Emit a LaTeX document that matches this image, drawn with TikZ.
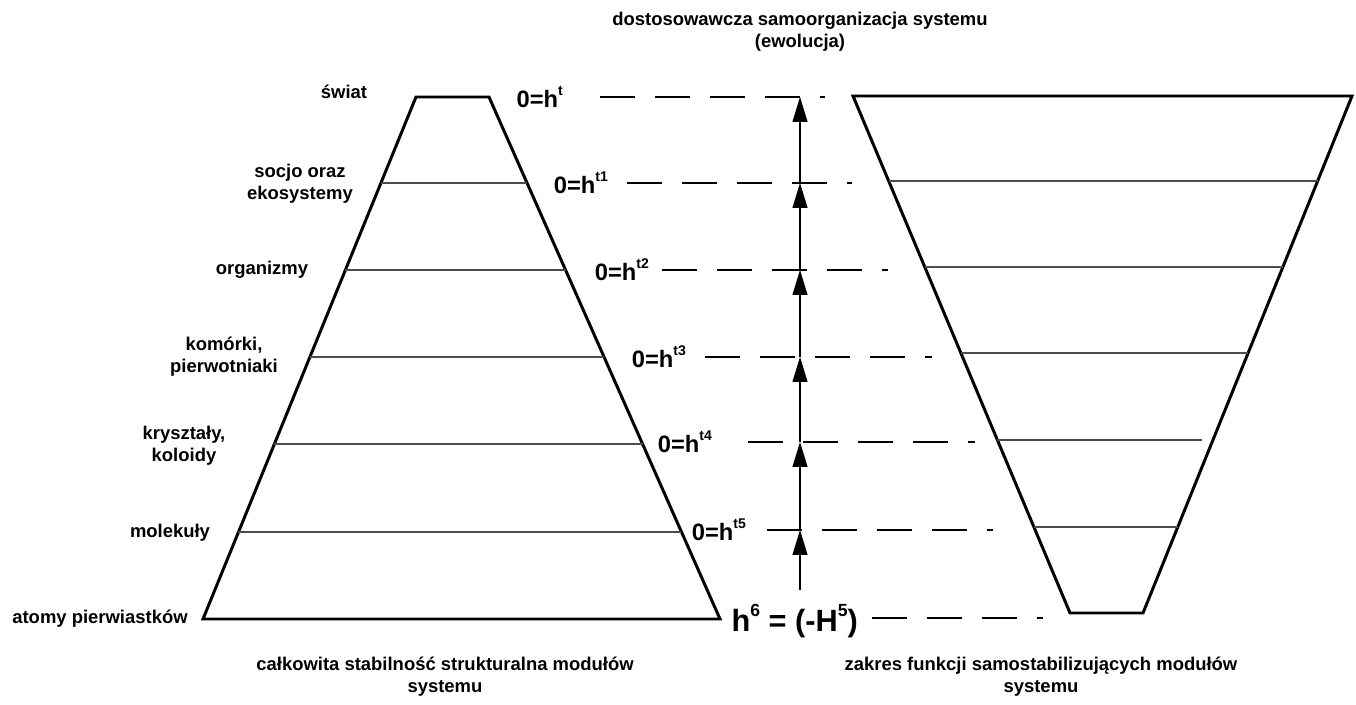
\documentclass[tikz,border=0pt]{standalone}
\usepackage{fontspec}
\setmainfont{Liberation Sans}
\usetikzlibrary{arrows.meta,positioning}
\newcommand{\upidx}[2][8]{\raisebox{0.5em}{\fontsize{#1}{#1}\selectfont #2}}

\begin{document}
\begin{tikzpicture}[
  x=0.02cm, y=-0.02cm,
  font=\bfseries\fontsize{10.5}{12.5}\selectfont, >=Triangle,
  frame/.style={line width=1.7pt, line join=miter},
  tier/.style={line width=0.6pt, black!70},
  lbl/.style={align=center, inner sep=1pt},
  lvl/.style={anchor=east, inner sep=1pt, font=\bfseries\fontsize{13.5}{15}\selectfont},
  dashline/.style={line width=1.2pt, dash pattern=on 0.7cm off 0.4cm},
  rise/.style={line width=0.6pt, -{Triangle[length=0.5cm, width=0.3cm]}},
]
\useasboundingbox (0,0) rectangle (1356,705);

% ── left trapezoid: structural stability ─────────────────────────────
\coordinate (Ltl) at (416,97);  \coordinate (Ltr) at (489,97);
\coordinate (Lbr) at (720,619); \coordinate (Lbl) at (203,619);
\draw[frame] (Ltl) -- (Ltr) -- (Lbr) -- (Lbl) -- cycle;
\foreach \y/\xa/\xb in {183/381/527, 270/345/566, 357/310/604, 444/274/643, 532/238/681}
  \draw[tier] (\xa,\y) -- (\xb,\y);

% ── right trapezoid: self-stabilising functions ──────────────────────
\coordinate (Rtl) at (853,96);   \coordinate (Rtr) at (1352,96);
\coordinate (Rbr) at (1143,613); \coordinate (Rbl) at (1070,613);
\draw[frame] (Rtl) -- (Rtr) -- (Rbr) -- (Rbl) -- cycle;
\foreach \y/\xa/\xb in {181/889/1318, 267/925/1283, 353/961/1248, 440/997/1202, 527/1034/1178}
  \draw[tier] (\xa,\y) -- (\xb,\y);

% ── level names ──────────────────────────────────────────────────────
\node[lbl] (swiat) at (344,92)  {świat};
\node[lbl] (socjo) at (300,184) {socjo oraz\\ekosystemy};
\node[lbl] (organ) at (262,270) {organizmy};
\node[lbl] (komor) at (224,357) {komórki,\\pierwotniaki};
\node[lbl] (kryst) at (184,446) {kryształy,\\koloidy};
\node[lbl] (molek) at (170,533) {molekuły};
\node[lbl] (atomy) at (100,619) {atomy pierwiastków};

% ── entropy levels with dashed guides ────────────────────────────────
\foreach \n/\y/\xl/\xa/\xb/\s in {0/97/565/600/825/t, 1/183/610/627/852/t1, 2/270/651/662/888/t2,
                                3/357/688/705/932/t3, 4/442/714/748/975/t4, 5/530/748/767/993/t5}{
  \node[lvl] (h\n) at (\xl,\y) {0=h\upidx{\s}};
  \coordinate (d\n) at (\xa,\y);
  \coordinate (e\n) at (\xb,\y);
  \draw[dashline] (d\n) -- (e\n);
}
\node[lvl, font=\bfseries\fontsize{17.5}{19}\selectfont] (h6) at (860,621) {h\upidx[10]{6} = (-H\upidx[10]{5})};
\coordinate (d6) at (872,618); \coordinate (e6) at (1043,618);
\draw[dashline] (d6) -- (e6);

% ── evolution axis ───────────────────────────────────────────────────
\coordinate (base) at (800,590);
\foreach \n in {0,...,5} \coordinate (a\n) at (800,0 |- d\n);
\draw[rise] (base) -- (a5);
\draw[rise] (a5) -- (a4);
\draw[rise] (a4) -- (a3);
\draw[rise] (a3) -- (a2);
\draw[rise] (a2) -- (a1);
\draw[rise] (a1) -- (a0);

% ── captions ─────────────────────────────────────────────────────────
\node[lbl] (title) at (800,32)  {dostosowawcza samoorganizacja systemu\\(ewolucja)};
\node[lbl] (capL)  at (445,677) {całkowita stabilność strukturalna modułów\\systemu};
\node[lbl] (capR)  at (1041,677) {zakres funkcji samostabilizujących modułów\\systemu};

\end{tikzpicture}
\end{document}
